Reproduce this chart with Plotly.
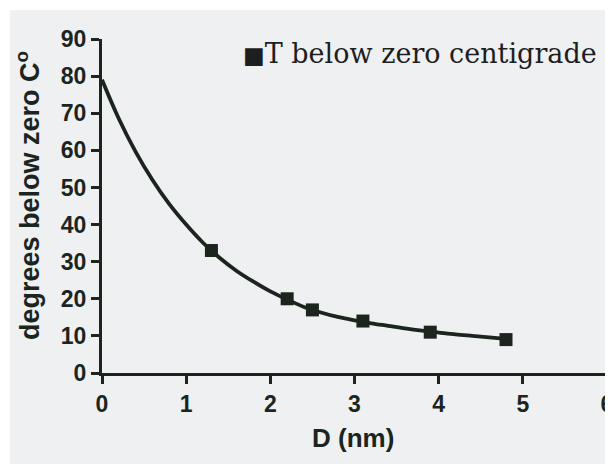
import plotly.graph_objects as go

# measured data points
pts_x = [1.3, 2.2, 2.5, 3.1, 3.9, 4.8]
pts_y = [33, 20, 17, 14, 11, 9]

# fitted curve, values
curve_x = [0, 0.2, 0.4, 0.6, 0.8, 1.0, 1.2, 1.4, 1.6, 1.8, 2.0, 2.2, 2.4, 2.6,
           2.8, 3.0, 3.2, 3.4, 3.6, 3.8, 4.0, 4.2, 4.4, 4.6, 4.8]
curve_y = [79, 68.5, 59.6, 52, 45.5, 40, 35.1, 31, 27.5, 24.6, 22, 19.8, 17.8, 16.3,
           15.1, 14.2, 13.4, 12.7, 12.0, 11.4, 10.9, 10.4, 10.0, 9.6, 9.2]

x_ticks = [0, 1, 2, 3, 4, 5, 6]
y_ticks = [0, 10, 20, 30, 40, 50, 60, 70, 80, 90]

ink = "#1b251e"
bg = "#eef0f2"

# the page body adds an 8px offset, so the figure is 8px smaller
OFF = 8
W, H = 613 - OFF, 464 - OFF
L, R, T, B = 102 - OFF, 6, 39 - OFF, 91
pw, ph = W - L - R, H - T - B


def px(x):  # page pixel x -> paper x
    return (x - OFF - L) / pw


def py(y):  # page pixel y -> paper y
    return 1 - (y - OFF - T) / ph


fig = go.Figure()
fig.add_trace(go.Scatter(x=curve_x, y=curve_y, mode="lines",
                         line=dict(color=ink, width=3.8, shape="spline"),
                         showlegend=False, hoverinfo="skip", cliponaxis=False))
fig.add_trace(go.Scatter(x=pts_x, y=pts_y, mode="markers",
                         marker=dict(symbol="square", size=13, color=ink),
                         name="T below zero centigrade", showlegend=False))

fig.add_shape(type="rect", xref="paper", yref="paper",
              x0=px(10), x1=px(620), y0=py(470), y1=py(10),
              fillcolor=bg, line=dict(width=0), layer="below")

fig.add_annotation(text="<span style='font-size:23px'>■</span>T below zero centigrade",
                   xref="paper", yref="paper",
                   x=px(241), y=py(53), xanchor="left", yanchor="middle",
                   showarrow=False,
                   font=dict(family="DejaVu Serif", size=27, color="#1e1e1e"))

fig.add_annotation(text="degrees below zero C<sup>o</sup>", xref="paper", yref="paper",
                   x=px(28), y=py(196), xanchor="center", yanchor="middle",
                   textangle=-90, showarrow=False,
                   font=dict(family="Liberation Sans", size=27, color=ink, weight="bold"))

fig.add_annotation(text="D (nm)", xref="paper", yref="paper",
                   x=px(353), y=py(438), xanchor="center", yanchor="middle",
                   showarrow=False,
                   font=dict(family="Liberation Sans", size=26, color=ink, weight="bold"))

axis_common = dict(ticks="outside", ticklen=8, tickwidth=3, tickcolor=ink,
                   showline=True, linewidth=3, linecolor=ink,
                   showgrid=False, zeroline=False, automargin=False,
                   ticklabeloverflow="allow",
                   tickfont=dict(family="Liberation Sans", size=23, color=ink, weight="bold"))

fig.update_layout(
    width=W, height=H,
    margin=dict(l=L, r=R, t=T, b=B),
    paper_bgcolor="white",
    plot_bgcolor="rgba(0,0,0,0)",
    font=dict(family="Liberation Sans", color=ink),
    xaxis=dict(range=[0, 6], tickvals=x_ticks, **axis_common),
    yaxis=dict(range=[0, 90], tickvals=y_ticks, **axis_common),
)

fig.write_html("out.html")
